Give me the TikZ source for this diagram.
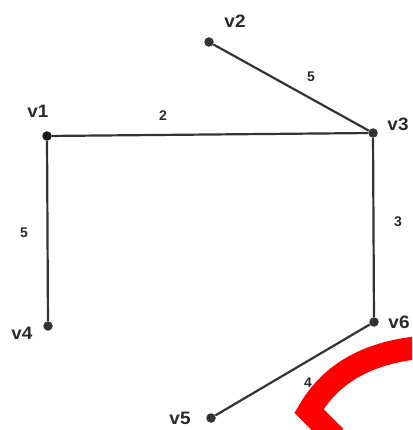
\documentclass[tikz,border=0pt]{standalone}
\usepackage{fontspec}
\setmainfont{Liberation Sans}
\definecolor{ink}{HTML}{333333}
\definecolor{txt}{HTML}{2a2a2a}
\begin{document}
\begin{tikzpicture}[x=1pt,y=-1pt,
  vdot/.style={circle,fill=ink,inner sep=0pt,minimum size=9.5pt},
  vlabel/.style={text=txt,font=\fontsize{18}{18}\selectfont\bfseries,inner sep=0pt,xscale=1.05},
  elabel/.style={text=txt,font=\fontsize{14}{14}\selectfont\bfseries,inner sep=0pt},
  edge/.style={draw=ink,line width=2.2pt}]
\useasboundingbox (0,0) rectangle (412,430);
\clip (0,0) rectangle (412,430);
% vertices
\node[vdot,fill=black!90] (v1) at (47,136) {};
\node[vdot] (v2) at (209,42) {};
\node[vdot] (v3) at (373,133) {};
\node[vdot] (v4) at (48,326) {};
\node[vdot] (v5) at (211,418) {};
\node[vdot] (v6) at (374,322) {};
% vertex labels
\node[vlabel] (l1) at (38,111) {v1};
\node[vlabel] (l2) at (235,21) {v2};
\node[vlabel] (l3) at (398,124) {v3};
\node[vlabel] (l4) at (22,333) {v4};
\node[vlabel] (l5) at (180,418) {v5};
\node[vlabel] (l6) at (399,322) {v6};
% edges
\draw[edge] (v1) -- (v3);
\draw[edge] (v2) -- (v3);
\draw[edge] (v1) -- (v4);
\draw[edge] (v3) -- (v6);
\draw[edge] (v6) -- (v5);
% edge labels
\node[elabel] (e13) at (163,116) {2};
\node[elabel] (e23) at (311,77) {5};
\node[elabel] (e14) at (24,233) {5};
\node[elabel] (e36) at (398,222) {3};
\node[elabel] (e56) at (308,383) {4};
% red mark
\draw[red,line width=23pt,line join=miter]
  (335,437) -- (309,411) .. controls (328,378) and (362,352) .. (425,347);
\end{tikzpicture}
\end{document}
